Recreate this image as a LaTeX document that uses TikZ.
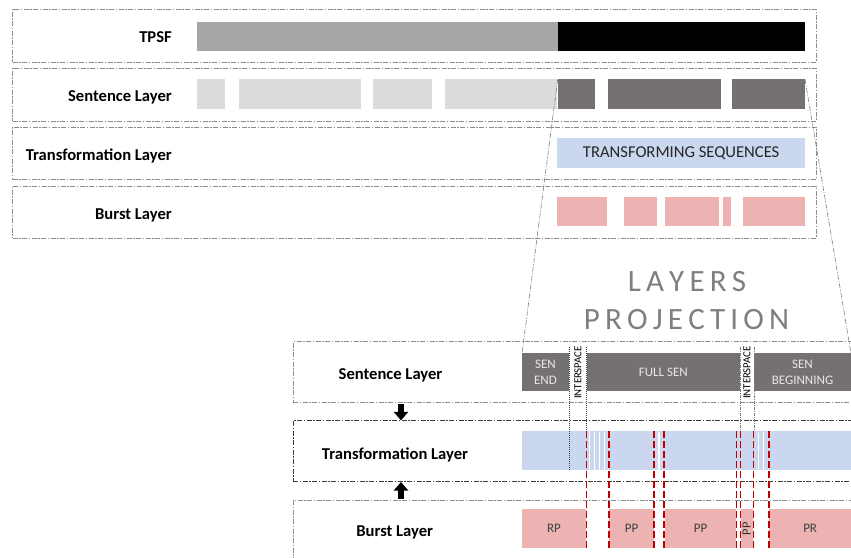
\documentclass[tikz,border=0pt]{standalone}
\usepackage{fontspec}
\setmainfont{Carlito}
\usetikzlibrary{arrows.meta}
\definecolor{gbar}{HTML}{A6A6A6}
\definecolor{lgbox}{HTML}{DDDBDB}
\definecolor{dgbox}{HTML}{767171}
\definecolor{bluebx}{HTML}{CBD7EE}
\definecolor{pinkbx}{HTML}{EDB3B3}
\definecolor{redd}{HTML}{C00000}
\definecolor{dblue}{HTML}{1F3864}
\definecolor{laygray}{HTML}{8C8C8C}
\definecolor{projgray}{HTML}{7F7F7F}
\definecolor{sentxt}{HTML}{E8E8E8}
\newcommand\blk[7]{\node[#2, anchor=north west, inner sep=0pt, outer sep=0pt,
  minimum width={(#5-#3)*1pt}, minimum height={(#6-#4)*1pt}] (#1) at (#3,#4) {#7};}
\newcommand\spc{\kern5.2pt}
\begin{document}
\begin{tikzpicture}[x=1pt,y=-1pt,
  laybox/.style={draw=laygray, line width=0.8pt, dash pattern=on 5pt off 1.5pt on 1.5pt off 1.5pt},
  laydark/.style={draw=black!75, line width=0.8pt, dash pattern=on 5pt off 1.5pt on 1.5pt off 1.5pt},
  lbl/.style={font=\fontsize{16.6}{19}\selectfont\bfseries, text=black, inner sep=0pt},
  graybar/.style={fill=gbar},
  blackbar/.style={fill=black},
  lightbx/.style={fill=lgbox},
  darkbx/.style={fill=dgbox, text=sentxt, align=center, font=\fontsize{13}{15.5}\selectfont},
  bluebox/.style={fill=bluebx, text=black!85, font=\fontsize{16.6}{19}\selectfont},
  pinkbox/.style={fill=pinkbx, text=black!75, font=\fontsize{13}{15}\selectfont},
  proj/.style={draw=projgray, line width=0.6pt, dash pattern=on 5pt off 1.5pt on 1pt off 1.5pt},
  bdot/.style={draw=dblue, line width=0.8pt, dash pattern=on 1pt off 1pt},
  gdot/.style={draw=projgray, line width=0.8pt, dash pattern=on 3pt off 1pt on 1pt off 1pt},
  reddash/.style={draw=redd, line width=1.5pt, dash pattern=on 7pt off 3pt},
  stripe/.style={draw=white, line width=1.2pt},
  barrow/.style={draw=black, line width=5.5pt, -{Triangle[width=14pt,length=8.5pt]}},
  vtext/.style={rotate=90, font=\fontsize{10.8}{12}\selectfont, text=black, inner sep=0pt},
]
\useasboundingbox (0,0) rectangle (851,557);
\begin{scope}
\clip (0,0) rectangle (851,557);
% ---------- top layers ----------
\blk{t1}{laybox}{12.7}{9}{816}{62}{}
\blk{t2}{laybox}{12.7}{68}{816}{121}{}
\blk{t3}{laybox}{12.7}{127}{816}{179.5}{}
\blk{t4}{laybox}{12.7}{186}{816}{238}{}
\node[lbl, anchor=base east] (l1) at (172,42.3) {TPSF};
\node[lbl, anchor=base east] (l2) at (172,101) {Sentence Layer};
\node[lbl, anchor=base east] (l3) at (172,160.7) {Transformation Layer};
\node[lbl, anchor=base east] (l4) at (172,219) {Burst Layer};
% TPSF
\blk{tp1}{graybar}{197.3}{21.7}{557.5}{51}{}
\blk{tp2}{blackbar}{557.5}{21.7}{805}{51}{}
% sentences
\blk{s1}{lightbx}{197.3}{79.3}{225}{109.3}{}
\blk{s2}{lightbx}{239}{79.3}{360.7}{109.3}{}
\blk{s3}{lightbx}{373.3}{79.3}{432}{109.3}{}
\blk{s4}{lightbx}{445}{79.3}{557.3}{109.3}{}
\blk{s5}{darkbx}{557.7}{79.3}{595}{109.3}{}
\blk{s6}{darkbx}{607.7}{79.3}{721.3}{109.3}{}
\blk{s7}{darkbx}{732.3}{79.3}{805}{109.3}{}
% transformation
\blk{ts}{bluebox}{557.3}{138.3}{805}{167.7}{TRANSFORMING SEQUENCES}
% bursts
\blk{u1}{pinkbox}{557.3}{197.3}{607}{226}{}
\blk{u2}{pinkbox}{624.3}{197.3}{656.7}{226}{}
\blk{u3}{pinkbox}{665}{197.3}{719}{226}{}
\blk{u4}{pinkbox}{723}{197.3}{731.3}{226}{}
\blk{u5}{pinkbox}{743.3}{197.3}{805}{226}{}
% ---------- title ----------
\node[font=\fontsize{31}{36}\selectfont, text=projgray, anchor=base, inner sep=0pt] (tt1) at (687,291)
  {L\spc A\spc Y\spc E\spc R\spc S};
\node[font=\fontsize{31}{36}\selectfont, text=projgray, anchor=base, inner sep=0pt] (tt2) at (686.5,329)
  {P\spc R\spc O\spc J\spc E\spc C\spc T\spc I\spc O\spc N};
% ---------- bottom layers ----------
\blk{b1}{laybox}{293.3}{341.7}{880}{402.3}{}
\blk{b2}{laydark}{293.3}{420.7}{880}{481.7}{}
\blk{b3}{laybox}{293.3}{500}{880}{590}{}
\node[lbl, anchor=base] (bl1) at (390.5,379.3) {Sentence Layer};
\node[lbl, anchor=base] (bl2) at (395,459) {Transformation Layer};
\node[lbl, anchor=base] (bl3) at (394.7,536.7) {Burst Layer};
\coordinate (ax) at (401,0);
\draw[barrow, shorten <=1.5pt, shorten >=0.3pt] (b1.south -| ax) -- (b2.north -| ax);
\draw[barrow, shorten <=1.5pt, shorten >=0.3pt] (b3.north -| ax) -- (b2.south -| ax);
% sentence blocks
\blk{bs1}{darkbx}{522}{353.3}{569}{391}{SEN\\END}
\blk{bs2}{darkbx}{586.7}{353.3}{740}{391}{FULL SEN}
\blk{bs3}{darkbx}{754}{353.3}{851}{391}{SEN\\BEGINNING}
\node[vtext] (is1) at (578,372.5) {INTERSPACE};
\node[vtext] (is2) at (747,372.5) {INTERSPACE};
% transformation block
\blk{tb}{bluebox}{522}{431}{851}{470}{}
\foreach \xx in {589.3,594.3,599.3,604.3,659,758.3,763.3}
  \draw[stripe] (\xx,431.5) -- (\xx,469.5);
% bursts
\blk{rp}{pinkbox}{522}{509.3}{586}{548.3}{RP}
\blk{pp1}{pinkbox}{609.3}{509.3}{654}{548.3}{PP}
\blk{pp2}{pinkbox}{664.7}{509.3}{736.3}{548.3}{PP}
\blk{pp3}{pinkbox}{740.7}{509.3}{752.7}{548.3}{}
\node[rotate=90, font=\fontsize{12.5}{14}\selectfont, text=black!80, inner sep=0pt] (pp3t) at (pp3.center) {PP};
\blk{pr}{pinkbox}{769.3}{509.3}{851}{548.3}{PR}
% dotted guide lines
\coordinate (g0) at (0,347);
\draw[bdot] (bs1.east |- g0) -- (bs1.east |- tb.south);
\draw[bdot] (bs2.west |- g0) -- (bs2.west |- tb.north);
\draw[gdot] (bs2.east |- g0) -- (bs2.east |- tb.north);
\draw[gdot] (bs3.west |- g0) -- (bs3.west |- tb.north);
% red dashed boundaries
\coordinate (c1) at (586.7,0);
\coordinate (c2) at (609,0);
\coordinate (c3) at (654,0);
\coordinate (c4) at (664,0);
\coordinate (c5) at (736.3,0);
\coordinate (c6) at (740.3,0);
\coordinate (c7) at (753.3,0);
\coordinate (c8) at (769,0);
\foreach \c in {c1,c2,c3,c4,c5,c6,c7,c8}
  \draw[reddash] (\c |- tb.north) -- (\c |- rp.south);
% projection lines
\draw[proj] (s5.north west) -- (bs1.north west);
\draw[proj] (s7.north east) -- (bs3.north east);
\end{scope}
\end{tikzpicture}
\end{document}
